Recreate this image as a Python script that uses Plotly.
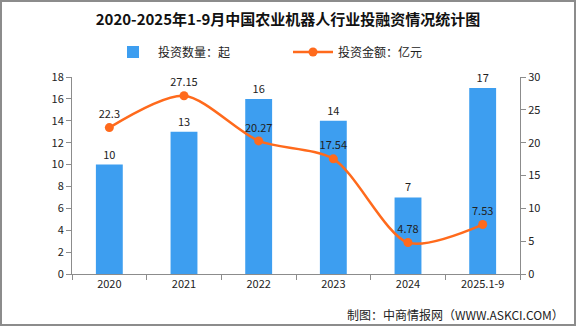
import plotly.graph_objects as go

categories = ["2020", "2021", "2022", "2023", "2024", "2025.1-9"]
deal_counts = [10, 13, 16, 14, 7, 17]
amounts = [22.3, 27.15, 20.27, 17.54, 4.78, 7.53]
amount_labels = ["22.3", "27.15", "20.27", "17.54", "4.78", "7.53"]

W, H = 576, 326
ML, MR, MT, MB = 72, 56, 77, 52
PW, PH = W - ML - MR, H - MT - MB

FONT = "Noto Sans CJK SC, DejaVu Sans, sans-serif"
BLUE = "#3D9EF0"
ORANGE = "#FF6A1C"
AXIS = "#8C8C8C"

fig = go.Figure()
fig.add_trace(go.Bar(
    x=categories, y=deal_counts, name="投资数量：起",
    marker=dict(color=BLUE, line=dict(width=0)),
    width=0.36,
    text=[str(v) for v in deal_counts], textposition="outside",
    textfont=dict(size=11, color="#222222", family=FONT),
    constraintext="none",
    cliponaxis=False,
))
fig.add_trace(go.Scatter(
    x=categories, y=amounts, name="投资金额：亿元", yaxis="y2",
    mode="lines+markers+text",
    line=dict(color=ORANGE, width=2.5, shape="spline", smoothing=0.8),
    marker=dict(color=ORANGE, size=9),
    text=amount_labels, textposition="top center",
    textfont=dict(size=11, color="#222222", family=FONT),
    cliponaxis=False,
))

def px_x(p):
    return (p - ML) / PW

def px_y(p):
    return (H - MB - p) / PH

fig.update_layout(
    width=W, height=H,
    margin=dict(l=ML, r=MR, t=MT, b=MB, pad=0, autoexpand=False),
    paper_bgcolor="white", plot_bgcolor="white",
    font=dict(family=FONT, size=11, color="#222222"),
    showlegend=True,
    legend=dict(orientation="h", x=px_x(288), xanchor="center", xref="paper",
                y=px_y(52), yanchor="middle", yref="paper",
                font=dict(size=12, color="#222222"), itemwidth=40,
                entrywidth=125, entrywidthmode="pixels",
                traceorder="normal", bgcolor="rgba(0,0,0,0)"),
    xaxis=dict(type="category", showline=True, linecolor=AXIS, linewidth=1,
               ticks="outside", tickson="boundaries", ticklen=5, tickcolor=AXIS,
               showgrid=False, tickfont=dict(size=11), tickangle=0),
    yaxis=dict(range=[0, 18], dtick=2, showline=True, linecolor=AXIS, linewidth=1,
               ticks="outside", ticklen=5, tickcolor=AXIS, showgrid=False,
               zeroline=False, tickfont=dict(size=11)),
    yaxis2=dict(range=[0, 30], dtick=5, overlaying="y", side="right",
                showline=True, linecolor=AXIS, linewidth=1,
                ticks="outside", ticklen=5, tickcolor=AXIS, showgrid=False,
                zeroline=False, tickfont=dict(size=11)),
    title=dict(text="<b>2020-2025年1-9月中国农业机器人行业投融资情况统计图</b>",
               x=0.5, xanchor="center", xref="container", y=1 - 20 / H, yanchor="middle",
               font=dict(size=15, color="#111111", family=FONT)),
    annotations=[dict(text="制图：中商情报网（WWW.ASKCI.COM）", xref="paper", yref="paper",
                      x=px_x(566), y=px_y(314), xanchor="right", yanchor="middle",
                      showarrow=False, font=dict(size=12, color="#222222"))],
    shapes=[dict(type="rect", xref="paper", yref="paper",
                 x0=px_x(1), x1=px_x(W - 1), y0=px_y(H - 1), y1=px_y(1),
                 line=dict(color="#8C8C8C", width=2), fillcolor="rgba(0,0,0,0)", layer="below")],
)

fig.write_html("out.html")
